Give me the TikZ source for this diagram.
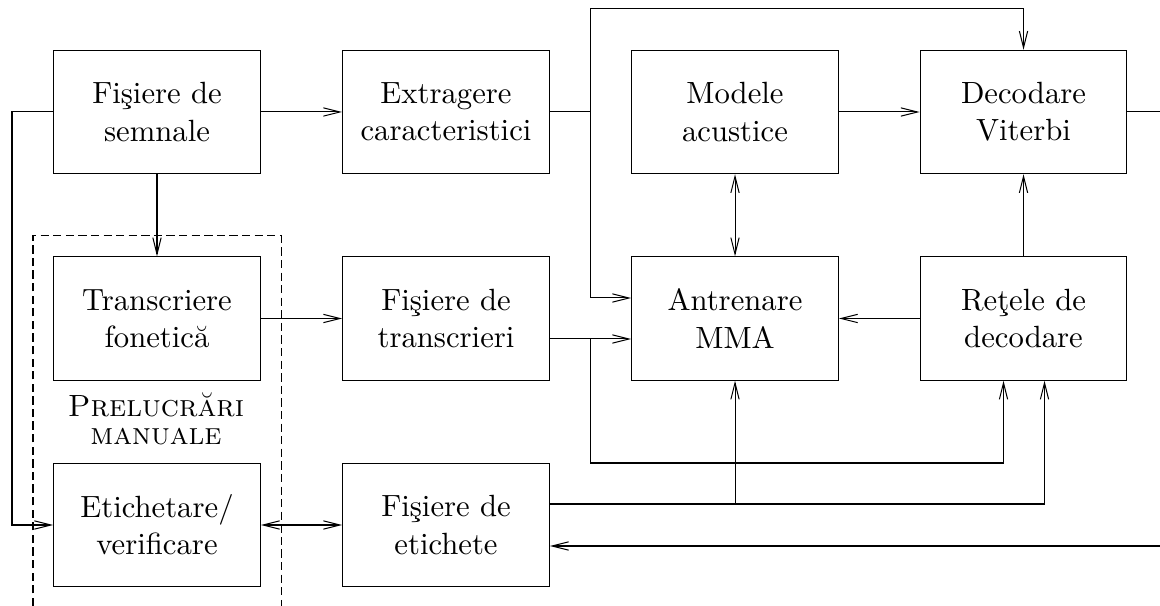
\documentclass[tikz,border=0pt]{standalone}
\usepackage{fontspec}
\usetikzlibrary{arrows.meta}
\begin{document}
\begin{tikzpicture}[x=0.32573pt,y=-0.32573pt,
  box/.style={draw,line width=0.33pt,minimum width=67.4pt,minimum height=40.2pt,inner sep=0pt,align=center,font=\fontsize{10pt}{12.15pt}\selectfont},
  conn/.style={line width=0.33pt},
  arr/.style={conn,-{Straight Barb[length=5.4pt,width=2.7pt]}},
  arrb/.style={conn,{Straight Barb[length=5.4pt,width=2.7pt]}-{Straight Barb[length=5.4pt,width=2.7pt]}},
  grp/.style={line width=0.33pt,dash pattern=on 2.7pt off 1.4pt}]
\useasboundingbox (0,0) rectangle (1160,606);
% boxes
\node[box] (fs)  at (157,112)    {Fişiere de\\semnale};
\node[box] (ex)  at (446,112)    {Extragere\\caracteristici};
\node[box] (ma)  at (735,112)    {Modele\\acustice};
\node[box] (dv)  at (1023.5,112) {Decodare\\Viterbi};
\node[box] (tf)  at (157,318.5)  {Transcriere\\fonetică};
\node[box] (ftr) at (446,318.5)  {Fişiere de\\transcrieri};
\node[box] (an)  at (735,318.5)  {Antrenare\\MMA};
\node[box] (rd)  at (1023.5,318.5) {Reţele de\\decodare};
\node[box] (et)  at (157,525)    {Etichetare/\\verificare};
\node[box] (fe)  at (446,525)    {Fişiere de\\etichete};
% group
\draw[grp] (33,606) -- (33,236) -- (281,236) -- (281,606);
\node[align=center,inner sep=0pt,font=\fontsize{10pt}{9.1pt}\selectfont] (pm) at (156,419) {\textsc{Prelucrări}\\\textsc{manuale}};
% junction coordinates
\coordinate (jl) at (12,112);
\coordinate (j1) at (590,112);
\coordinate (jt) at (590,9);
\coordinate (j2) at (590,339);
\coordinate (j3) at (1003.5,463);
\coordinate (j4) at (735,504);
\coordinate (rout) at (1160,112);
\coordinate (rin) at (1160,546);
% connectors
\draw[arr] (fs.east) -- (ex.west);
\draw[arr] (fs.south) -- (tf.north);
\draw[arr] (fs.west) -- (jl) |- (et.west);
\draw[arr] (ex.east) -- (j1) -- (jt) -| (dv.north);
\draw[arr] (j1) |- (an.west |- 0,298);
\draw[arr] (ma.east) -- (dv.west);
\draw[arrb] (ma.south) -- (an.north);
\draw[arr] (rd.north) -- (dv.south);
\draw[arr] (rd.west) -- (an.east);
\draw[arr] (tf.east) -- (ftr.west);
\draw[arr] (ftr.east |- 0,339) -- (an.west |- 0,339);
\draw[arr] (j2) |- (j3) -- (rd.south -| j3);
\draw[arr] (fe.east |- 0,504) -| (rd.south -| 1044.5,0);
\draw[arr] (j4) -- (an.south);
\draw[arrb] (et.east) -- (fe.west);
\draw[conn] (dv.east) -- (rout);
\draw[arr] (rin) -- (fe.east |- rin);
\end{tikzpicture}
\end{document}
